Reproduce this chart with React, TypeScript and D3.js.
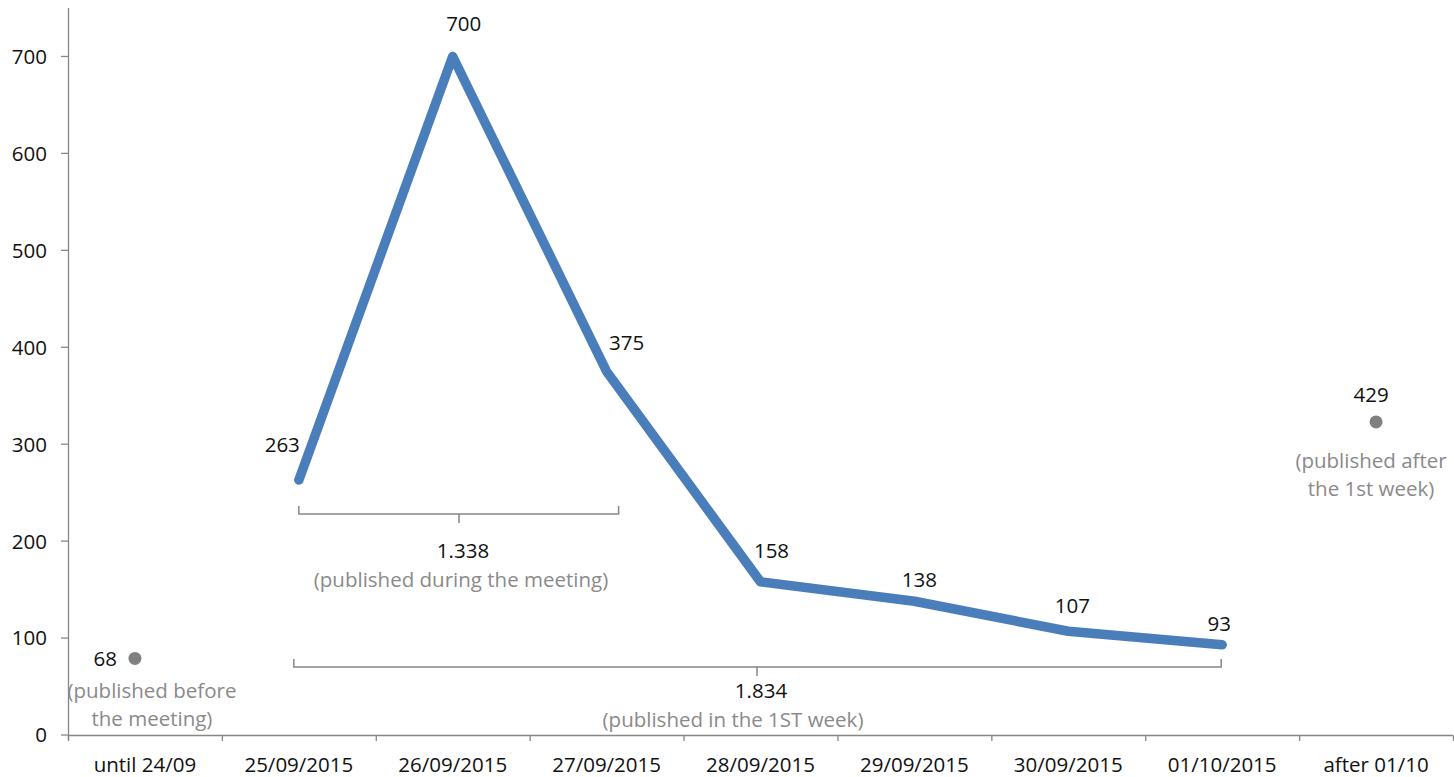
import * as d3 from "d3";

const categories = [
  "until 24/09",
  "25/09/2015",
  "26/09/2015",
  "27/09/2015",
  "28/09/2015",
  "29/09/2015",
  "30/09/2015",
  "01/10/2015",
  "after 01/10",
];

const lineCategories = categories.slice(1, 8);
const lineValues = [263, 700, 375, 158, 138, 107, 93];

const dotCategories = ["until 24/09", "after 01/10"];
const dotValues = [79, 323];
const dotLabels = ["68", "429"];
const dotNotes = [
  ["(published before", "the meeting)"],
  ["(published after", "the 1st week)"],
];

const yTicks = [0, 100, 200, 300, 400, 500, 600, 700];

const bracketFrom = ["25/09/2015", "25/09/2015"];
const bracketTo = ["27/09/2015", "01/10/2015"];
const bracketTotals = ["1.338", "1.834"];
const bracketNotes = ["(published during the meeting)", "(published in the 1ST week)"];

const width = 1454;
const height = 777;
const font = "'Open Sans', 'Noto Sans', sans-serif";
const axisColor = "#878787";
const noteColor = "#8a8a8a";
const lineColor = "#4a7ebb";

// label offsets around each point, in px
const labelOffsets: [number, number, string][] = [
  [1, -28, "end"],
  [11, -25, "middle"],
  [20, -22, "middle"],
  [11, -24, "middle"],
  [5, -14, "middle"],
  [4, -18, "middle"],
  [-3, -14, "middle"],
];

export default function App() {
  const x = d3.scaleBand<string>().domain(categories).range([68, 1453]);
  const y = d3.scaleLinear().domain([0, 750]).range([735, 8]);
  const cx = (c: string) => x(c)! + x.bandwidth() / 2;

  const line = d3
    .line<number>()
    .x((_, i) => cx(lineCategories[i]))
    .y((d) => y(d));

  const boundaries = categories.map((c) => x(c)!).concat([x.range()[1]]);

  const brackets = [
    { left: cx(bracketFrom[0]), right: cx(bracketTo[0]) + 12, yLine: 514, center: 459, textY: 558, noteDx: 2 },
    { left: cx(bracketFrom[1]) - 5, right: cx(bracketTo[1]) - 1, yLine: 667, center: 757, textY: 698, noteDx: -24 },
  ];

  return (
    <svg
      width={width}
      height={height}
      style={{ position: "absolute", left: 0, top: 0, background: "#fff" }}
      fontFamily={font}
    >
      {/* y axis */}
      <line x1={68.5} x2={68.5} y1={8} y2={740} stroke={axisColor} strokeWidth={1.3} />
      {yTicks.map((t) => (
        <g key={t}>
          <line x1={61} x2={68.5} y1={y(t)} y2={y(t)} stroke={axisColor} strokeWidth={1.3} />
          <text x={47} y={y(t)} dy="0.36em" textAnchor="end" fontSize={20.5} fill="#111">
            {t}
          </text>
        </g>
      ))}

      {/* x axis */}
      <line x1={68} x2={1453} y1={735.5} y2={735.5} stroke={axisColor} strokeWidth={1.3} />
      {boundaries.map((b, i) => (
        <line key={i} x1={b + 0.5} x2={b + 0.5} y1={735.5} y2={741} stroke={axisColor} strokeWidth={1.3} />
      ))}
      {categories.map((c) => (
        <text key={c} x={cx(c)} y={772} textAnchor="middle" fontSize={20.5} fill="#111">
          {c}
        </text>
      ))}

      {/* brackets */}
      {brackets.map((b, i) => (
        <g key={i}>
          <path
            d={`M${b.left},${b.yLine - 8} V${b.yLine} H${b.right} V${b.yLine - 8} M${b.center},${b.yLine} V${b.yLine + 9}`}
            fill="none"
            stroke={axisColor}
            strokeWidth={1.5}
          />
          <text x={b.center + 4} y={b.textY} textAnchor="middle" fontSize={20.5} fill="#111">
            {bracketTotals[i]}
          </text>
          <text x={b.center + b.noteDx} y={b.textY + 29} textAnchor="middle" fontSize={20.5} fill={noteColor}>
            {bracketNotes[i]}
          </text>
        </g>
      ))}

      {/* main line */}
      <path
        d={line(lineValues)!}
        fill="none"
        stroke={lineColor}
        strokeWidth={9.5}
        strokeLinecap="round"
        strokeLinejoin="round"
      />
      {lineValues.map((v, i) => {
        const [dx, dy, anchor] = labelOffsets[i];
        return (
          <text
            key={i}
            x={cx(lineCategories[i]) + dx}
            y={y(v) + dy}
            textAnchor={anchor}
            fontSize={20.5}
            fill="#111"
          >
            {v}
          </text>
        );
      })}

      {/* outlying points */}
      {dotValues.map((v, i) => {
        const px = cx(dotCategories[i]) + (i === 0 ? -10 : 0);
        const py = y(v);
        const noteX = i === 0 ? px + 17 : px - 5;
        return (
          <g key={i}>
            <circle cx={px} cy={py} r={6.5} fill="#808080" />
            {i === 0 ? (
              <text x={px - 18} y={py} dy="0.36em" textAnchor="end" fontSize={20.5} fill="#111">
                {dotLabels[i]}
              </text>
            ) : (
              <text x={px - 5} y={py - 20} textAnchor="middle" fontSize={20.5} fill="#111">
                {dotLabels[i]}
              </text>
            )}
            {dotNotes[i].map((n, j) => (
              <text
                key={j}
                x={noteX}
                y={(i === 0 ? 698 : 468) + j * 28}
                textAnchor="middle"
                fontSize={20.5}
                fill={noteColor}
              >
                {n}
              </text>
            ))}
          </g>
        );
      })}
    </svg>
  );
}
